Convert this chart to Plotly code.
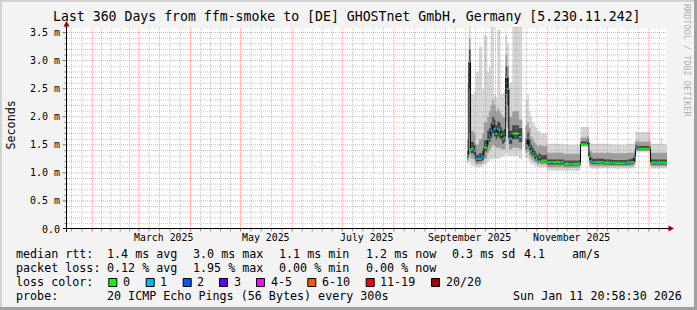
import pandas as pd
import plotly.graph_objects as go

# ---------------- data ----------------
X_START = "2025-01-16 20:58:30"
X_END = "2026-01-11 20:58:30"
Y_MAX = 3.6

dates = ["2025-09-14", "2025-09-15", "2025-09-16", "2025-09-18", "2025-09-19", "2025-09-21",
         "2025-09-23", "2025-09-24", "2025-09-26", "2025-09-27", "2025-09-28", "2025-09-29",
         "2025-09-30", "2025-10-01", "2025-10-02", "2025-10-03", "2025-10-04", "2025-10-05",
         "2025-10-06", "2025-10-07", "2025-10-08", "2025-10-09", "2025-10-11", "2025-10-15",
         "2025-10-17", "2025-10-19", "2025-10-20", "2025-10-21", "2025-10-22", "2025-10-23",
         "2025-10-24", "2025-10-25", "2025-10-26", "2025-10-27", "2025-10-28", "2025-11-01",
         "2025-11-03", "2025-11-04", "2025-11-09", "2025-11-10", "2025-11-11", "2025-11-15",
         "2025-11-16", "2025-11-20", "2025-11-21", "2025-11-25", "2025-11-26", "2025-11-27",
         "2025-11-28", "2025-11-29", "2025-11-30", "2025-12-04", "2025-12-05", "2025-12-09",
         "2025-12-10", "2025-12-18", "2025-12-19", "2025-12-20", "2025-12-21", "2025-12-23",
         "2025-12-24", "2025-12-25", "2026-01-02", "2026-01-05", "2026-01-06", "2026-01-08",
         "2026-01-09"]

median_ms = [1.31, 2.98, 1.43, 1.39, 1.25, 1.25,
             1.28, 1.45, 1.60, 1.65, 1.75, 1.87,
             1.78, 1.70, 1.78, 1.76, 1.68, 1.61,
             1.63, 2.71, 2.50, 1.61, 1.70, 1.64,
             None, 1.49, 1.62, 1.46, 1.40, 1.35,
             1.31, 1.25, 1.22, 1.27, 1.22, 1.19,
             1.19, 1.19, 1.19, 1.19, 1.16, 1.16,
             1.16, 1.17, 1.51, 1.55, 1.29, 1.22,
             1.19, 1.19, 1.19, 1.19, 1.18, 1.18,
             1.17, 1.17, 1.18, 1.18, 1.19, 1.28,
             1.45, 1.43, 1.18, 1.18, 1.18, 1.18,
             1.18]

loss_count = [0, 1, 0, 1, 1, 1,
              1, 0, 0, 1, 1, 1,
              1, 0, 1, 0, 0, 0,
              1, 1, 0, 1, 0, 1,
              None, 0, 1, 1, 0, 1,
              0, 0, 1, 0, 0, 0,
              1, 0, 1, 0, 0, 1,
              0, 0, 0, 1, 0, 1,
              0, 1, 0, 1, 0, 1,
              0, 1, 0, 1, 0, 1,
              1, 0, 0, 1, 0, 0,
              0]

smoke_min = [1.15, 1.20, 1.13, 1.12, 1.10, 1.10,
             1.12, 1.15, 1.20, 1.22, 1.25, 1.25,
             1.25, 1.25, 1.25, 1.25, 1.28, 1.30,
             1.30, 1.35, 1.30, 1.30, 1.30, 1.25,
             None, 1.25, 1.25, 1.20, 1.15, 1.15,
             1.12, 1.12, 1.10, 1.10, 1.10, 1.04,
             1.04, 1.04, 1.04, 1.04, 1.04, 1.04,
             1.04, 1.04, 1.46, 1.46, 1.10, 1.08,
             1.08, 1.08, 1.08, 1.08, 1.08, 1.08,
             1.08, 1.08, 1.08, 1.08, 1.08, 1.10,
             1.37, 1.37, 1.08, 1.08, 1.08, 1.08,
             1.08]

smoke_p25 = [1.22, 1.70, 1.25, 1.22, 1.15, 1.16,
             1.18, 1.25, 1.35, 1.40, 1.45, 1.50,
             1.48, 1.45, 1.45, 1.45, 1.42, 1.42,
             1.42, 1.90, 1.80, 1.42, 1.45, 1.42,
             None, 1.35, 1.38, 1.30, 1.25, 1.22,
             1.20, 1.18, 1.15, 1.16, 1.15, 1.10,
             1.10, 1.10, 1.10, 1.10, 1.09, 1.09,
             1.09, 1.10, 1.48, 1.49, 1.15, 1.12,
             1.12, 1.12, 1.12, 1.12, 1.12, 1.12,
             1.12, 1.12, 1.12, 1.12, 1.12, 1.15,
             1.40, 1.39, 1.12, 1.12, 1.12, 1.12,
             1.12]

smoke_p40 = [1.27, 2.50, 1.35, 1.32, 1.20, 1.21,
             1.23, 1.38, 1.50, 1.55, 1.62, 1.70,
             1.65, 1.60, 1.65, 1.62, 1.58, 1.52,
             1.55, 2.40, 2.20, 1.52, 1.60, 1.55,
             None, 1.42, 1.50, 1.40, 1.33, 1.30,
             1.26, 1.22, 1.19, 1.22, 1.19, 1.15,
             1.15, 1.15, 1.15, 1.15, 1.13, 1.13,
             1.13, 1.14, 1.50, 1.52, 1.22, 1.17,
             1.16, 1.16, 1.16, 1.16, 1.15, 1.15,
             1.14, 1.14, 1.15, 1.15, 1.16, 1.20,
             1.42, 1.41, 1.15, 1.15, 1.15, 1.15,
             1.15]

smoke_p60 = [1.40, 3.20, 1.55, 1.50, 1.32, 1.35,
             1.40, 1.58, 1.75, 1.80, 1.90, 2.00,
             1.95, 1.85, 1.92, 1.90, 1.82, 1.75,
             1.78, 2.90, 2.70, 1.75, 1.85, 1.80,
             None, 1.60, 1.72, 1.58, 1.50, 1.45,
             1.40, 1.35, 1.32, 1.35, 1.32, 1.24,
             1.24, 1.24, 1.24, 1.24, 1.22, 1.22,
             1.22, 1.23, 1.56, 1.60, 1.34, 1.27,
             1.25, 1.25, 1.25, 1.25, 1.24, 1.24,
             1.23, 1.23, 1.24, 1.24, 1.25, 1.32,
             1.50, 1.48, 1.24, 1.24, 1.24, 1.24,
             1.24]

smoke_p75 = [1.60, 3.40, 1.75, 1.70, 1.50, 1.60,
             1.70, 1.90, 2.00, 2.10, 2.20, 2.30,
             2.20, 2.10, 2.15, 2.10, 2.05, 2.00,
             2.00, 3.10, 2.90, 2.00, 2.10, 1.95,
             None, 1.85, 1.90, 1.80, 1.65, 1.60,
             1.55, 1.50, 1.48, 1.50, 1.48, 1.36,
             1.36, 1.36, 1.36, 1.36, 1.34, 1.34,
             1.34, 1.35, 1.63, 1.66, 1.42, 1.38,
             1.36, 1.36, 1.36, 1.36, 1.36, 1.36,
             1.35, 1.35, 1.36, 1.36, 1.36, 1.40,
             1.58, 1.56, 1.36, 1.36, 1.36, 1.36,
             1.36]

smoke_max = [2.60, 3.60, 2.40, 2.45, 2.80, 3.25,
             2.50, 3.45, 2.80, 2.90, 3.60, 3.60,
             2.40, 2.35, 3.55, 3.55, 2.40, 2.40,
             2.45, 3.45, 3.30, 2.60, 3.60, 3.60,
             None, 2.30, 2.40, 2.10, 2.00, 1.90,
             1.85, 1.80, 1.75, 1.75, 1.70, 1.52,
             1.52, 1.52, 1.52, 1.52, 1.50, 1.50,
             1.50, 1.52, 1.82, 1.82, 1.55, 1.52,
             1.52, 1.52, 1.52, 1.52, 1.52, 1.52,
             1.50, 1.50, 1.52, 1.52, 1.52, 1.55,
             1.75, 1.73, 1.52, 1.52, 1.52, 1.62,
             1.52]

y_tick_vals = [0.0, 0.5, 1.0, 1.5, 2.0, 2.5, 3.0, 3.5]
y_tick_text = ["0.0", "0.5 m", "1.0 m", "1.5 m", "2.0 m", "2.5 m", "3.0 m", "3.5 m"]

x_label_dates = ["2025-03-16", "2025-05-16", "2025-07-16", "2025-09-15 12:00", "2025-11-15 12:00"]
x_label_text = ["March 2025", "May 2025", "July 2025", "September 2025", "November 2025"]

title_text = "Last 360 Days from ffm-smoke to [DE] GHOSTnet GmbH, Germany [5.230.11.242]"

rtt_stats = ["1.4 ms avg", "3.0 ms max", "1.1 ms min", "1.2 ms now", "0.3 ms sd", "4.1", "am/s"]
loss_stats = ["0.12 % avg", "1.95 % max", "0.00 % min", "0.00 % now"]
loss_labels = ["0", "1", "2", "3", "4-5", "6-10", "11-19", "20/20"]
loss_colors = ["#00ff00", "#00b8ff", "#0059ff", "#5e00ff", "#ff00ff", "#ff5500", "#ff0000", "#a10000"]
probe_text = "20 ICMP Echo Pings (56 Bytes) every 300s"
stamp_text = "Sun Jan 11 20:58:30 2026"

# ---------------- layout geometry ----------------
W, H = 697, 310
L, R, T, B = 67, 667, 27, 229
PW, PH = R - L, B - T
FONT = "DejaVu Sans Mono"


def xp(px):
    return (px - L) / PW


def yp(py):
    return (B - py) / PH


fig = go.Figure()

# ---------------- smoke bands ----------------
ts = list(pd.to_datetime(dates))
ends = ts[1:] + [pd.Timestamp(X_END)]

runs, cur = [], []
for i, m in enumerate(median_ms):
    if m is None:
        if cur:
            runs.append(cur)
        cur = []
    else:
        cur.append(i)
if cur:
    runs.append(cur)

bands = [(smoke_min, smoke_max, "#d6d6d6"),
         (smoke_p25, smoke_p75, "#9e9e9e"),
         (smoke_p40, smoke_p60, "#454545")]

for run in runs:
    xs = [ts[i] for i in run] + [ends[run[-1]]]
    for lo, hi, col in bands:
        ylo = [lo[i] for i in run] + [lo[run[-1]]]
        yhi = [hi[i] for i in run] + [hi[run[-1]]]
        fig.add_trace(go.Scatter(x=xs, y=ylo, mode="lines", line=dict(width=0, shape="hv"),
                                 showlegend=False, hoverinfo="skip"))
        fig.add_trace(go.Scatter(x=xs, y=yhi, mode="lines", line=dict(width=0, shape="hv"),
                                 fill="tonexty", fillcolor=col, showlegend=False, hoverinfo="skip"))
    ym = [median_ms[i] for i in run] + [median_ms[run[-1]]]
    fig.add_trace(go.Scatter(x=xs, y=ym, mode="lines", line=dict(width=1, shape="hv", color="#000000"),
                             showlegend=False, hoverinfo="skip"))

# coloured median segments by loss
loss_bins = [0, 1, 2, 3, 4, 6, 11, 20]
for bi, col in enumerate(loss_colors):
    sx, sy = [], []
    for i, m in enumerate(median_ms):
        if m is None:
            continue
        lc = loss_count[i]
        b = max(j for j, v in enumerate(loss_bins) if lc >= v)
        if b == bi:
            sx += [ts[i], ends[i], None]
            sy += [m, m, None]
    if sx:
        fig.add_trace(go.Scatter(x=sx, y=sy, mode="lines", line=dict(width=2, color=col),
                                 showlegend=False, hoverinfo="skip"))

shapes = []
DOT = "1px,1px"
MAJ = "rgba(255,70,70,0.55)"
MIN = "rgba(150,150,150,0.55)"

# horizontal grid
for k in range(1, 37):
    v = k / 10
    col = MAJ if k % 5 == 0 else MIN
    shapes.append(dict(type="line", xref="paper", yref="y", x0=0, x1=1, y0=v, y1=v,
                       line=dict(color=col, width=1, dash=DOT), layer="above"))
    tl = 4 if k % 5 == 0 else 2
    shapes.append(dict(type="line", xref="paper", yref="y", x0=xp(66.5 - tl), x1=xp(66.5), y0=v, y1=v,
                       line=dict(color="#777777", width=1), layer="above"))

# vertical grid: month starts and fifths of month
xs0, xs1 = pd.Timestamp(X_START), pd.Timestamp(X_END)
months = pd.date_range("2025-01-01", "2026-02-01", freq="MS")
for a, b in zip(months[:-1], months[1:]):
    for k in range(5):
        t = a + (b - a) * k / 5
        if t <= xs0 or t >= xs1:
            continue
        col = MAJ if k == 0 else MIN
        shapes.append(dict(type="line", xref="x", yref="paper", x0=t, x1=t, y0=0, y1=1,
                           line=dict(color=col, width=1, dash=DOT), layer="above"))
        shapes.append(dict(type="line", xref="x", yref="paper", x0=t, x1=t, y0=yp(228.5), y1=yp(231.5),
                           line=dict(color=("#e06060" if k == 0 else "#999999"), width=1), layer="above"))

# axes lines and arrows
shapes.append(dict(type="line", xref="paper", yref="paper", x0=xp(66.5), x1=xp(66.5), y0=yp(232), y1=yp(24),
                   line=dict(color="#000000", width=1), layer="above"))
shapes.append(dict(type="line", xref="paper", yref="paper", x0=xp(63), x1=xp(669), y0=yp(228.5), y1=yp(228.5),
                   line=dict(color="#000000", width=1), layer="above"))
shapes.append(dict(type="path", xref="paper", yref="paper",
                   path=f"M {xp(63.5)} {yp(26.5)} L {xp(69.5)} {yp(26.5)} L {xp(66.5)} {yp(21)} Z",
                   fillcolor="#a00000", line=dict(width=0), layer="above"))
shapes.append(dict(type="path", xref="paper", yref="paper",
                   path=f"M {xp(668.5)} {yp(225.5)} L {xp(668.5)} {yp(231.5)} L {xp(674)} {yp(228.5)} Z",
                   fillcolor="#a00000", line=dict(width=0), layer="above"))

# outer 3D border
shapes.append(dict(type="rect", xref="paper", yref="paper", x0=xp(0), x1=xp(W), y0=yp(0), y1=yp(2),
                   fillcolor="#d2d2d2", line=dict(width=0), layer="above"))
shapes.append(dict(type="rect", xref="paper", yref="paper", x0=xp(0), x1=xp(2), y0=yp(0), y1=yp(H),
                   fillcolor="#d2d2d2", line=dict(width=0), layer="above"))
shapes.append(dict(type="rect", xref="paper", yref="paper", x0=xp(0), x1=xp(W), y0=yp(H - 3), y1=yp(H),
                   fillcolor="#a0a0a0", line=dict(width=0), layer="above"))
shapes.append(dict(type="rect", xref="paper", yref="paper", x0=xp(W - 3), x1=xp(W), y0=yp(0), y1=yp(H),
                   fillcolor="#a0a0a0", line=dict(width=0), layer="above"))

# ---------------- text ----------------
ann = []


def text(px, py, s, size=11.7, anchor="left", color="#000000", angle=0, xref="paper"):
    ann.append(dict(x=(px if xref == "x" else xp(px)), y=yp(py), xref=xref, yref="paper", text=s,
                    showarrow=False, xanchor=anchor, yanchor="middle", textangle=angle,
                    borderpad=0, borderwidth=0,
                    font=dict(family=FONT, size=size, color=color)))


text(347, 17, title_text, size=13.2, anchor="center")
text(10.5, 125, "Seconds", size=11.7, anchor="center", angle=-90)
text(687, 60, "RRDTOOL / TOBI OETIKER", size=8.5, anchor="center", angle=90, color="#b0b0b0")

for d, s in zip(x_label_dates, x_label_text):
    text(pd.Timestamp(d), 237, s, size=9.9, anchor="center", xref="x")

rtt_x = [107.3, 192.7, 279.3, 365.7, 451.7, 524, 571.7]
text(16, 254.3, "median rtt:")
for x, s in zip(rtt_x, rtt_stats):
    text(x, 254.3, s)
text(16, 268.3, "packet loss:")
for x, s in zip(rtt_x, loss_stats):
    text(x, 268.3, s)
text(16, 282.3, "loss color:")
box_x = [108.3, 145.7, 182.7, 219, 256, 307.3, 365.7, 431]
for x, s, c in zip(box_x, loss_labels, loss_colors):
    shapes.append(dict(type="rect", xref="paper", yref="paper", x0=xp(x + 0.5), x1=xp(x + 8.5),
                       y0=yp(278.5), y1=yp(286.5), fillcolor=c, line=dict(color="#000000", width=1),
                       layer="above"))
    text(x + 14.5, 282.3, s)
text(16, 296, "probe:")
text(107.3, 296, probe_text)
text(513.3, 296, stamp_text)

fig.update_layout(
    width=W, height=H,
    margin=dict(l=L, r=W - R, t=T, b=H - B, pad=0),
    paper_bgcolor="#f3f3f3", plot_bgcolor="#ffffff",
    showlegend=False,
    shapes=shapes, annotations=ann,
    xaxis=dict(range=[X_START, X_END], type="date", showgrid=False, zeroline=False,
               showline=False, showticklabels=False, ticks=""),
    yaxis=dict(range=[0, Y_MAX], showgrid=False, zeroline=False, showline=False,
               tickmode="array", tickvals=y_tick_vals, ticktext=y_tick_text, ticks="",
               ticklabelstandoff=6,
               tickfont=dict(family=FONT, size=10, color="#000000")),
)

fig.write_html("out.html")
